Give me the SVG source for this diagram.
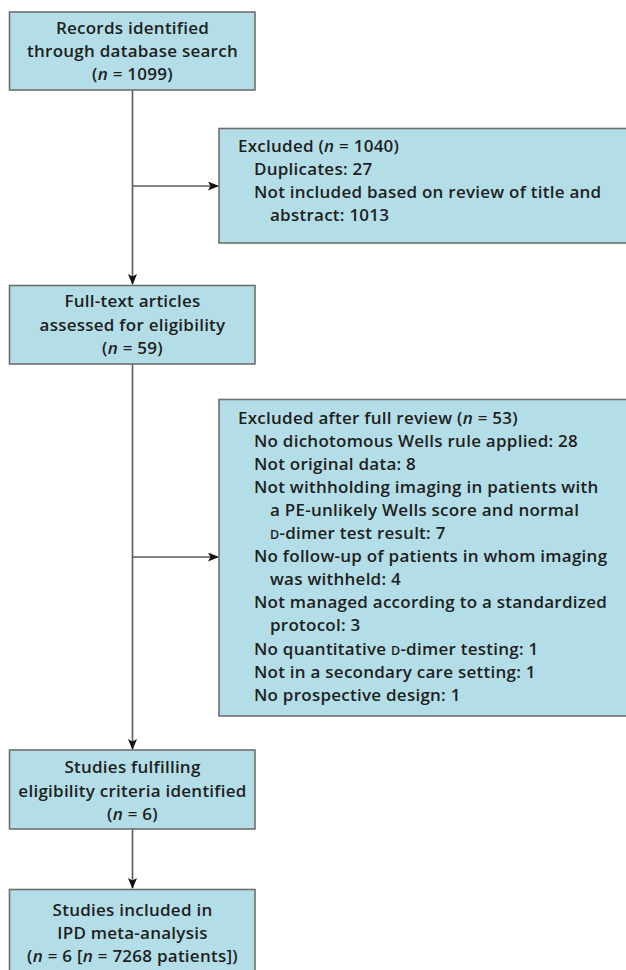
<svg xmlns="http://www.w3.org/2000/svg" width="626" height="970" viewBox="0 0 626 970">
<defs>
<marker id="ah" markerWidth="11" markerHeight="9" refX="10" refY="4.5" orient="auto" markerUnits="userSpaceOnUse">
<path d="M0,0 L11,4.5 L0,9 L2.5,4.5 Z" fill="#111"/>
</marker>
<style>
.box{fill:#b4dee7;stroke:#6e6e6e;stroke-width:1.6}
.t{font-family:"Open Sans","Liberation Sans",sans-serif;font-weight:600;font-size:17px;letter-spacing:0.25px;fill:#1e1e1e}
.c{text-anchor:middle}
.sc{font-size:12.5px}
.edge{stroke:#5c5c5c;stroke-width:1.6;fill:none}
</style>
</defs>
<rect width="626" height="970" fill="#ffffff"/>
<g id="connectors">
<line class="edge" x1="132.5" y1="90" x2="132.5" y2="284" marker-end="url(#ah)"/>
<line class="edge" x1="132.5" y1="186" x2="218" y2="186" marker-end="url(#ah)"/>
<line class="edge" x1="132.5" y1="364" x2="132.5" y2="749" marker-end="url(#ah)"/>
<line class="edge" x1="132.5" y1="557" x2="218" y2="557" marker-end="url(#ah)"/>
<line class="edge" x1="132.5" y1="829" x2="132.5" y2="888" marker-end="url(#ah)"/>
</g>
<g id="records">
<rect class="box" x="9.5" y="12" width="245.5" height="78"/>
<text class="t c" x="132.5" y="33.5">Records identified</text>
<text class="t c" x="132.5" y="56.5">through database search</text>
<text class="t c" x="132.5" y="79.5">(<tspan font-style="italic">n</tspan> = 1099)</text>
</g>
<g id="excluded1">
<rect class="box" x="219" y="128.5" width="410" height="114.5"/>
<text class="t" x="238" y="152">Excluded (<tspan font-style="italic">n</tspan> = 1040)</text>
<text class="t" x="254" y="175">Duplicates: 27</text>
<text class="t" x="254" y="198">Not included based on review of title and</text>
<text class="t" x="270" y="221">abstract: 1013</text>
</g>
<g id="fulltext">
<rect class="box" x="9.5" y="285.5" width="245.5" height="78.5"/>
<text class="t c" x="132.5" y="307">Full-text articles</text>
<text class="t c" x="132.5" y="330.5">assessed for eligibility</text>
<text class="t c" x="132.5" y="354">(<tspan font-style="italic">n</tspan> = 59)</text>
</g>
<g id="excluded2">
<rect class="box" x="219" y="399.5" width="410" height="316.5"/>
<text class="t" x="238" y="423.5">Excluded after full review (<tspan font-style="italic">n</tspan> = 53)</text>
<text class="t" x="254" y="446.5">No dichotomous Wells rule applied: 28</text>
<text class="t" x="254" y="470">Not original data: 8</text>
<text class="t" x="254" y="493">Not withholding imaging in patients with</text>
<text class="t" x="270" y="516">a PE-unlikely Wells score and normal</text>
<text class="t" x="270" y="539"><tspan class="sc">D</tspan>-dimer test result: 7</text>
<text class="t" x="254" y="562">No follow-up of patients in whom imaging</text>
<text class="t" x="270" y="585">was withheld: 4</text>
<text class="t" x="254" y="608">Not managed according to a standardized</text>
<text class="t" x="270" y="631">protocol: 3</text>
<text class="t" x="254" y="654.5">No quantitative <tspan class="sc">D</tspan>-dimer testing: 1</text>
<text class="t" x="254" y="677.5">Not in a secondary care setting: 1</text>
<text class="t" x="254" y="700.5">No prospective design: 1</text>
</g>
<g id="eligible">
<rect class="box" x="9.5" y="750" width="245.5" height="79"/>
<text class="t c" x="132.5" y="773">Studies fulfilling</text>
<text class="t c" x="132.5" y="796.5">eligibility criteria identified</text>
<text class="t c" x="132.5" y="820">(<tspan font-style="italic">n</tspan> = 6)</text>
</g>
<g id="included">
<rect class="box" x="9.5" y="889.5" width="245.5" height="90"/>
<text class="t c" x="132.5" y="916">Studies included in</text>
<text class="t c" x="132.5" y="939">IPD meta-analysis</text>
<text class="t c" x="132.5" y="962">(<tspan font-style="italic">n</tspan> = 6 [<tspan font-style="italic">n</tspan> = 7268 patients])</text>
</g>
</svg>
